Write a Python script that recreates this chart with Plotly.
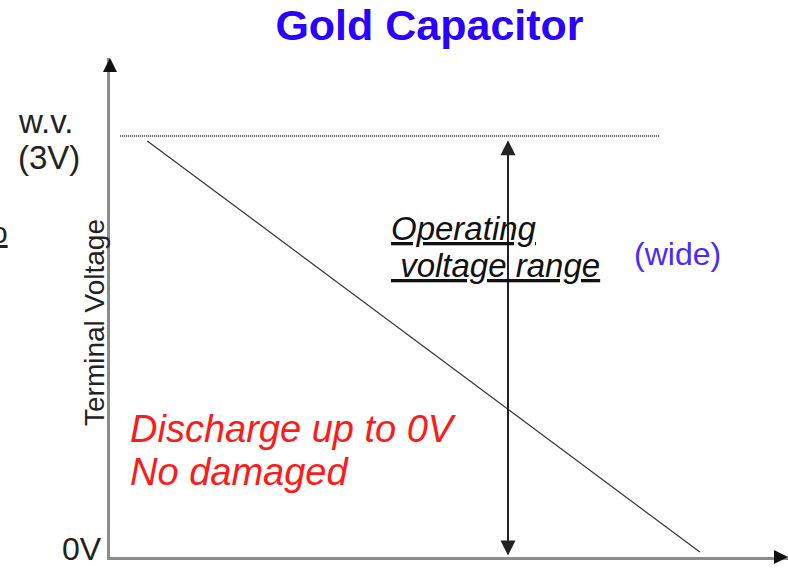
import plotly.graph_objects as go

# ---- data (time in arbitrary units, voltage in V) ----
discharge_time = [0.55, 8.70]
discharge_voltage = [2.965, 0.035]
wv_time = [0.15, 8.11]
wv_voltage = [3.0, 3.0]
range_time = 5.87
range_voltage = [2.97, 0.0]
x_max = 10.0
y_max = 3.556

W, H = 788, 570
L, R, T, B = 110, 0, 58, 13


def PX(px):
    return (px - L) / (W - L - R)


def PY(py):
    return (H - B - py) / (H - B - T)


ARIAL = "Arial, Liberation Sans, sans-serif"
fig = go.Figure()

fig.add_trace(go.Scatter(
    x=wv_time, y=wv_voltage, mode="lines",
    line=dict(color="#222222", width=1.3, dash="1px,1px"),
    hoverinfo="skip", showlegend=False))

fig.add_trace(go.Scatter(
    x=discharge_time, y=discharge_voltage, mode="lines",
    line=dict(color="#333333", width=1.2),
    hoverinfo="skip", showlegend=False))

ann = []
# double arrow: operating voltage range
ann.append(dict(x=range_time, y=range_voltage[0], ax=range_time, ay=range_voltage[1],
                xref="x", yref="y", axref="x", ayref="y", text="",
                showarrow=True, arrowhead=2, startarrowhead=2, arrowside="end+start",
                arrowsize=1.5, startarrowsize=1.5, arrowwidth=2, arrowcolor="#222222"))
# axis arrowheads
ann.append(dict(x=0, y=y_max, ax=0, ay=15, xref="x", yref="y", text="",
                showarrow=True, arrowhead=2, arrowsize=1.4, arrowwidth=2, arrowcolor="#111111"))
ann.append(dict(x=x_max, y=0, ax=-15, ay=0, xref="x", yref="y", text="",
                showarrow=True, arrowhead=2, arrowsize=1.4, arrowwidth=2, arrowcolor="#111111"))


def txt(s, px, py, size, color="#222222", family=ARIAL, xanchor="left", angle=0):
    ann.append(dict(text=s, x=PX(px), y=PY(py), xref="paper", yref="paper", showarrow=False,
                    xanchor=xanchor, yanchor="middle", textangle=angle,
                    font=dict(family=family, size=size, color=color)))


txt("w.v.", 16, 121, 33)
txt("(3V)", 16, 157, 33)
txt("0V", 104, 549, 32, xanchor="right")
txt("<u>o</u>", 10, 232, 30, xanchor="right")
txt("Terminal Voltage", 94, 323, 28, xanchor="center", angle=-90)
txt("<i><u>Operating</u></i>", 389, 228, 33, color="#111111")
txt("<i><u>&nbsp;voltage range</u></i>", 389, 265, 33, color="#111111")
txt("(wide)", 632, 254, 32, color="#4a2bff")
txt("<i>Discharge up to 0V</i>", 128, 429, 38, color="#ff1a1a")
txt("<i>No damaged</i>", 128, 472, 38, color="#ff1a1a")

fig.update_layout(
    width=W, height=H,
    margin=dict(l=L, r=R, t=T, b=B, pad=0),
    paper_bgcolor="white", plot_bgcolor="white",
    title=dict(text="<b>Gold Capacitor</b>", x=429.5 / W, xref="container", xanchor="center",
               y=1 - 25 / H, yref="container", yanchor="middle",
               font=dict(family=ARIAL, size=43, color="#2a00ff")),
    xaxis=dict(range=[0, x_max], showgrid=False, zeroline=False, showticklabels=False,
               ticks="", showline=True, linecolor="#8c8c8c", linewidth=2.5),
    yaxis=dict(range=[0, y_max], showgrid=False, zeroline=False, showticklabels=False,
               ticks="", showline=True, linecolor="#8c8c8c", linewidth=2.5),
    annotations=ann,
    showlegend=False,
)

fig.write_html("out.html", config={"displayModeBar": False},
               post_script="document.body.style.margin='0';")
